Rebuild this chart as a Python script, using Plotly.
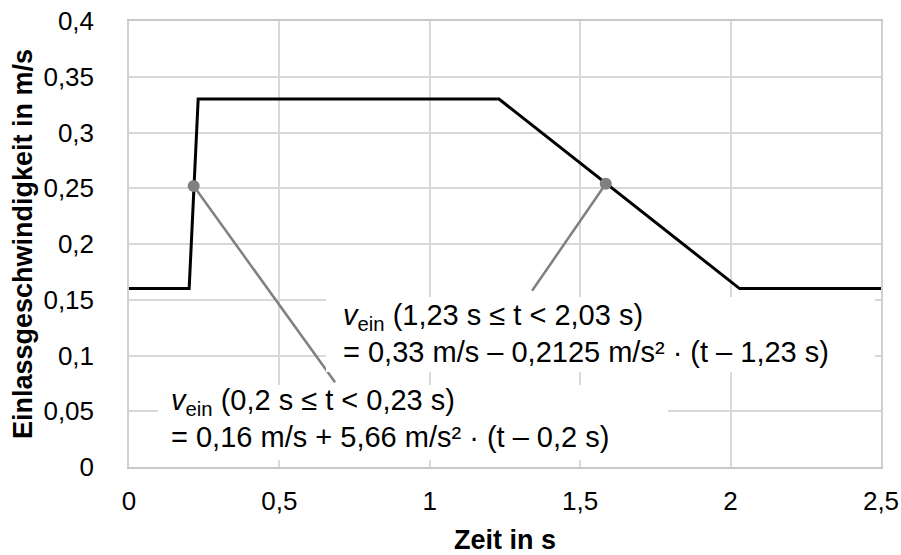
import plotly.graph_objects as go

# ---- data ----
t_profile = [0, 0.2, 0.23, 1.23, 2.03, 2.5]
v_profile = [0.16, 0.16, 0.33, 0.33, 0.16, 0.16]

marker_t = [0.215, 1.585]
marker_v = [0.252, 0.254]

callout1_t = [0.215, 0.685]
callout1_v = [0.252, 0.076]
callout2_t = [1.585, 1.340]
callout2_v = [0.254, 0.158]

x_tickvals = [0, 0.5, 1, 1.5, 2, 2.5]
x_ticktext = ["0", "0,5", "1", "1,5", "2", "2,5"]
y_tickvals = [0, 0.05, 0.1, 0.15, 0.2, 0.25, 0.3, 0.35, 0.4]
y_ticktext = ["0", "0,05", "0,1", "0,15", "0,2", "0,25", "0,3", "0,35", "0,4"]

x_title = "Zeit in s"
y_title = "Einlassgeschwindigkeit in m/s"

label_upper = ["<i>v</i><sub>ein</sub> (1,23 s ≤ t &lt; 2,03 s)",
               "= 0,33 m/s – 0,2125 m/s² · (t – 1,23 s)"]
label_lower = ["<i>v</i><sub>ein</sub> (0,2 s ≤ t &lt; 0,23 s)",
               "= 0,16 m/s + 5,66 m/s² · (t – 0,2 s)"]

FONT = "Liberation Sans, Arial, sans-serif"
GRID = "#d9d9d9"
GRAY = "#808080"

fig = go.Figure()

fig.add_trace(go.Scatter(x=callout1_t, y=callout1_v, mode="lines",
                         line=dict(color=GRAY, width=2.5), hoverinfo="skip"))
fig.add_trace(go.Scatter(x=callout2_t, y=callout2_v, mode="lines",
                         line=dict(color=GRAY, width=2.5), hoverinfo="skip"))
fig.add_trace(go.Scatter(x=t_profile, y=v_profile, mode="lines",
                         line=dict(color="black", width=3)))
fig.add_trace(go.Scatter(x=marker_t, y=marker_v, mode="markers",
                         marker=dict(color=GRAY, size=12)))

# white text boxes (cover gridlines)
fig.add_shape(type="rect", xref="x", yref="y", x0=0.655, x1=2.48, y0=0.0852, y1=0.1525,
              fillcolor="white", line=dict(width=0), layer="above")
fig.add_shape(type="rect", xref="x", yref="y", x0=0.0963, x1=1.792, y0=0.0063, y1=0.0735,
              fillcolor="white", line=dict(width=0), layer="above")

ann_font = dict(family=FONT, size=29, color="black")
fig.add_annotation(x=0.705, y=0.1345, xref="x", yref="y", text=label_upper[0],
                   showarrow=False, xanchor="left", yanchor="middle", font=ann_font)
fig.add_annotation(x=0.705, y=0.1031, xref="x", yref="y", text=label_upper[1],
                   showarrow=False, xanchor="left", yanchor="middle", font=ann_font)
fig.add_annotation(x=0.133, y=0.0583, xref="x", yref="y", text=label_lower[0],
                   showarrow=False, xanchor="left", yanchor="middle", font=ann_font)
fig.add_annotation(x=0.133, y=0.0270, xref="x", yref="y", text=label_lower[1],
                   showarrow=False, xanchor="left", yanchor="middle", font=ann_font)

fig.update_layout(
    width=901, height=555,
    margin=dict(l=129, r=20, t=21, b=88),
    paper_bgcolor="white", plot_bgcolor="white",
    showlegend=False,
    font=dict(family=FONT, color="black"),
)
fig.update_xaxes(
    range=[0, 2.5], tickvals=x_tickvals, ticktext=x_ticktext,
    showgrid=True, gridcolor=GRID, gridwidth=1.5,
    showline=True, linecolor="#c8c8c8", linewidth=1.5, mirror=True,
    zeroline=False, ticks="", ticklabelstandoff=10, automargin=False,
    tickfont=dict(size=26, family=FONT, color="black"),
    title=dict(text="<b>" + x_title + "</b>", font=dict(size=27, family=FONT, color="black"),
               standoff=20),
)
fig.update_yaxes(
    range=[0, 0.4], tickvals=y_tickvals, ticktext=y_ticktext,
    showgrid=True, gridcolor=GRID, gridwidth=1.5,
    showline=True, linecolor="#d0d0d0", linewidth=1.5, mirror=True,
    zeroline=False, ticks="", ticklabelstandoff=28, automargin=False,
    tickfont=dict(size=26, family=FONT, color="black"),
    title=dict(text="<b>" + y_title + "</b>", font=dict(size=27, family=FONT, color="black"),
               standoff=3),
)

fig.write_html("out.html")
